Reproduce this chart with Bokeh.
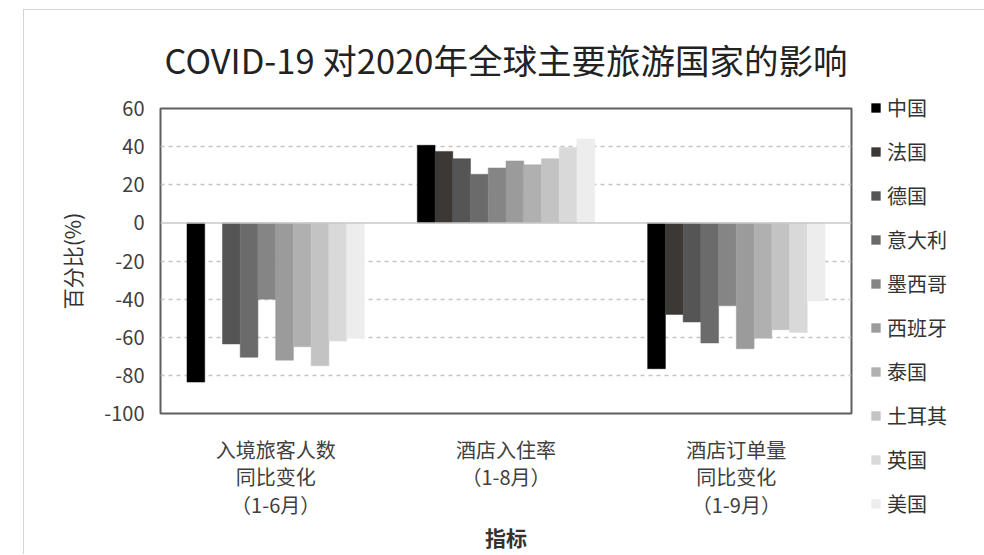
import numpy as np
from bokeh.plotting import figure
from bokeh.models import (ColumnDataSource, FactorRange, Range1d, FixedTicker, Span,
                          Legend, LegendItem, Title)
from bokeh.transform import dodge
from bokeh.embed import file_html
from bokeh.resources import INLINE

FONT = "Noto Sans CJK SC"
NAN = float("nan")

categories = ["入境旅客人数\n同比变化\n（1-6月）", "酒店入住率\n（1-8月）", "酒店订单量\n同比变化\n（1-9月）"]
countries = ["中国", "法国", "德国", "意大利", "墨西哥", "西班牙", "泰国", "土耳其", "英国", "美国"]
china = [-83.5, 40.7, -76.5]
france = [NAN, 37.5, -48.0]
germany = [-63.5, 33.7, -52.0]
italy = [-70.5, 25.5, -63.0]
mexico = [-40.0, 28.8, -43.5]
spain = [-72.0, 32.5, -66.0]
thailand = [-65.0, 30.5, -60.5]
turkey = [-75.0, 33.7, -56.0]
uk = [-62.0, 39.6, -57.5]
us = [-60.5, 44.0, -41.0]
series = [china, france, germany, italy, mexico, spain, thailand, turkey, uk, us]
colors = ["#000000", "#3b3836", "#555555", "#6b6b6b", "#858585",
          "#9b9b9b", "#b0b0b0", "#c3c3c3", "#d9d9d9", "#ededed"]
y_ticks = [60, 40, 20, 0, -20, -40, -60, -80, -100]

p = figure(x_range=FactorRange(*categories, range_padding=0),
           y_range=Range1d(-100, 60),
           frame_width=691, frame_height=305,
           output_backend="svg", toolbar_location=None,
           min_border_left=136, min_border_right=130, min_border_top=97, min_border_bottom=140)
p.styles = {"margin-left": "23px", "margin-top": "9px",
            "border-left": "1px solid #d4d4d4", "border-top": "1px solid #d4d4d4"}

p.title = Title(text="COVID-19 对2020年全球主要旅游国家的影响", align="center",
                vertical_align="top",
                text_font=FONT, text_font_size="34.5px", text_font_style="normal",
                text_color="#222222", standoff=46)

bw = 0.077
items = []
for i, (name, vals, col) in enumerate(zip(countries, series, colors)):
    src = ColumnDataSource(dict(x=categories, top=vals))
    r = p.vbar(x=dodge("x", (i - 4.5) * bw, range=p.x_range), top="top", bottom=0,
               width=bw, source=src, fill_color=col, line_color=col, line_width=0.5)
    items.append(LegendItem(label=name, renderers=[r]))

p.add_layout(Span(location=0, dimension="width", line_color="#c8c8c8", line_width=1.5))

p.outline_line_color = "#5f5f5f"
p.outline_line_width = 2
p.background_fill_color = "white"
p.border_fill_color = "white"

p.xgrid.grid_line_color = None
p.ygrid.ticker = FixedTicker(ticks=[60, 40, 20, -20, -40, -60, -80, -100])
p.ygrid.grid_line_color = "#c4c4c4"
p.ygrid.grid_line_dash = "4 4"
p.ygrid.grid_line_width = 1.3

p.yaxis.ticker = FixedTicker(ticks=y_ticks)
p.yaxis.major_label_overrides = {v: str(v) for v in y_ticks}
p.yaxis.axis_line_color = None
p.yaxis.major_tick_line_color = None
p.yaxis.minor_tick_line_color = None
p.yaxis.major_label_text_font = FONT
p.yaxis.major_label_text_font_size = "20px"
p.yaxis.major_label_text_color = "#404040"
p.yaxis.major_label_standoff = 10
p.yaxis.axis_label = "百分比(%)"
p.yaxis.axis_label_text_font = FONT
p.yaxis.axis_label_text_font_size = "21px"
p.yaxis.axis_label_text_font_style = "normal"
p.yaxis.axis_label_text_color = "#333333"
p.yaxis.axis_label_standoff = 14

p.xaxis.axis_line_color = None
p.xaxis.major_tick_line_color = None
p.xaxis.minor_tick_line_color = None
p.xaxis.major_label_text_font = FONT
p.xaxis.major_label_text_font_size = "20px"
p.xaxis.major_label_text_color = "#404040"
p.xaxis.major_label_text_line_height = 0.95
p.xaxis.major_label_standoff = 15
p.xaxis.axis_label = "指标"
p.xaxis.axis_label_text_font = FONT
p.xaxis.axis_label_text_font_size = "21px"
p.xaxis.axis_label_text_font_style = "bold"
p.xaxis.axis_label_text_color = "#333333"
p.xaxis.axis_label_standoff = 0

legend = Legend(items=items, location=(19, -105), orientation="vertical",
                label_text_font=FONT, label_text_font_size="20px", label_text_color="#333333",
                glyph_width=11, glyph_height=11, label_height=29, label_standoff=6,
                spacing=15, padding=0, margin=0, border_line_color=None,
                background_fill_alpha=0)
p.add_layout(legend, "right")

open("out.html", "w").write(file_html(p, INLINE))
